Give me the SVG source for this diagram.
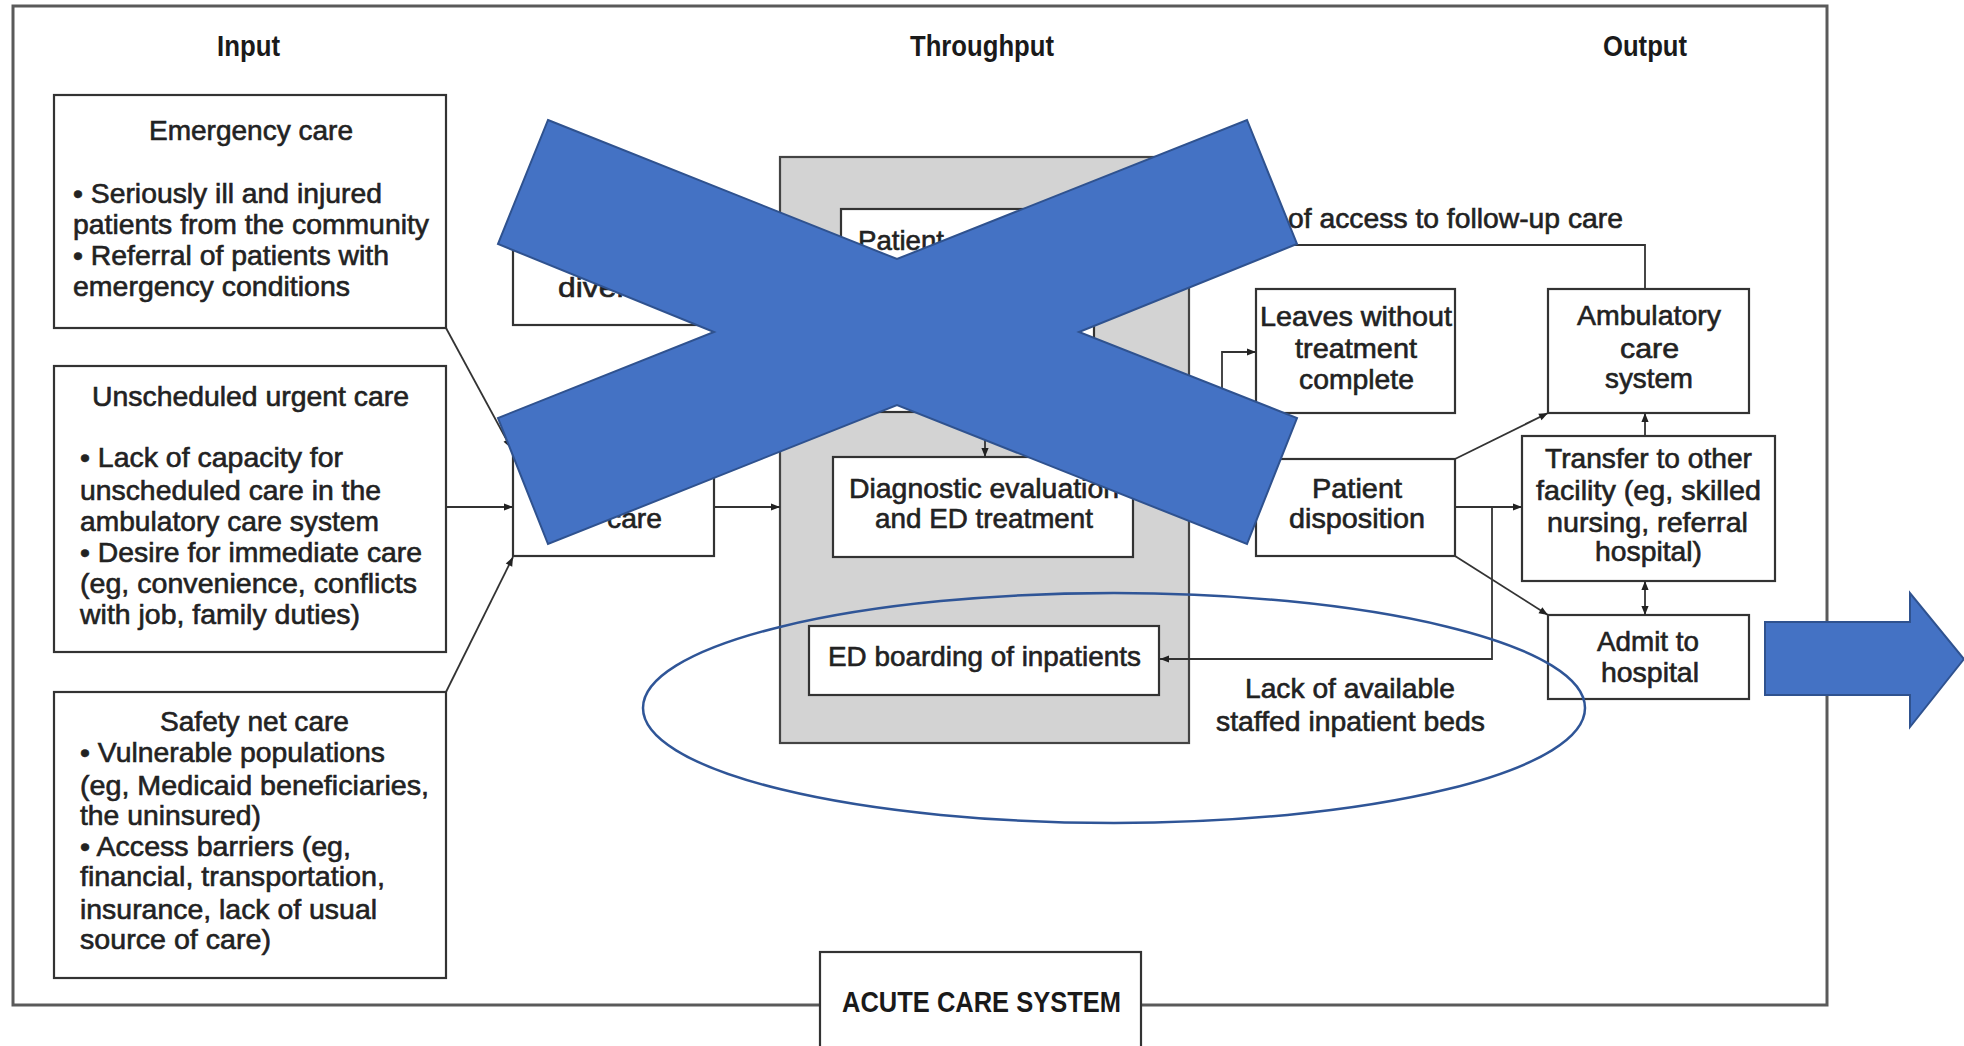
<svg xmlns="http://www.w3.org/2000/svg" width="1964" height="1046" viewBox="0 0 1964 1046">
<defs>
<style>
.box{fill:#fff;stroke:#333;stroke-width:2.2}
.t{font-family:"Liberation Sans",Arial,sans-serif;font-size:28px;fill:#222;stroke:#222;stroke-width:0.6}
.h{font-family:"Liberation Sans",Arial,sans-serif;font-size:29px;font-weight:bold;fill:#1a1a1a}
.c{fill:none;stroke:#333;stroke-width:1.8}
.blue{fill:#4472C4;stroke:#2F528F;stroke-width:2}
</style>
<marker id="ah" viewBox="0 0 10 10" refX="10" refY="5" markerWidth="11" markerHeight="9" markerUnits="userSpaceOnUse" orient="auto-start-reverse">
<path d="M0,1 L10,5 L0,9 z" fill="#222"/>
</marker>
</defs>
<rect width="1964" height="1046" fill="#fff"/>
<rect id="frame" x="13" y="6" width="1814" height="999" fill="none" stroke="#5a5a5a" stroke-width="3"/>
<g id="headers">
<text class="h" x="217" y="56" textLength="63" lengthAdjust="spacingAndGlyphs">Input</text>
<text class="h" x="910" y="56" textLength="144" lengthAdjust="spacingAndGlyphs">Throughput</text>
<text class="h" x="1603" y="56" textLength="84" lengthAdjust="spacingAndGlyphs">Output</text>
</g>
<g id="emergency">
<rect class="box" x="54" y="95" width="392" height="233"/>
<text class="t" x="149" y="140" textLength="204" lengthAdjust="spacingAndGlyphs">Emergency care</text>
<text class="t" x="73" y="203" textLength="309" lengthAdjust="spacingAndGlyphs">• Seriously ill and injured</text>
<text class="t" x="73" y="234" textLength="356" lengthAdjust="spacingAndGlyphs">patients from the community</text>
<text class="t" x="73" y="265" textLength="316" lengthAdjust="spacingAndGlyphs">• Referral of patients with</text>
<text class="t" x="73" y="296" textLength="277" lengthAdjust="spacingAndGlyphs">emergency conditions</text>
</g>
<g id="unscheduled">
<rect class="box" x="54" y="366" width="392" height="286"/>
<text class="t" x="92" y="406" textLength="317" lengthAdjust="spacingAndGlyphs">Unscheduled urgent care</text>
<text class="t" x="80" y="467" textLength="263" lengthAdjust="spacingAndGlyphs">• Lack of capacity for</text>
<text class="t" x="80" y="500" textLength="301" lengthAdjust="spacingAndGlyphs">unscheduled care in the</text>
<text class="t" x="80" y="531" textLength="299" lengthAdjust="spacingAndGlyphs">ambulatory care system</text>
<text class="t" x="80" y="562" textLength="342" lengthAdjust="spacingAndGlyphs">• Desire for immediate care</text>
<text class="t" x="80" y="593" textLength="337" lengthAdjust="spacingAndGlyphs">(eg, convenience, conflicts</text>
<text class="t" x="80" y="624" textLength="280" lengthAdjust="spacingAndGlyphs">with job, family duties)</text>
</g>
<g id="safety">
<rect class="box" x="54" y="692" width="392" height="286"/>
<text class="t" x="160" y="731" textLength="189" lengthAdjust="spacingAndGlyphs">Safety net care</text>
<text class="t" x="80" y="762" textLength="305" lengthAdjust="spacingAndGlyphs">• Vulnerable populations</text>
<text class="t" x="80" y="795" textLength="349" lengthAdjust="spacingAndGlyphs">(eg, Medicaid beneficiaries,</text>
<text class="t" x="80" y="825" textLength="181" lengthAdjust="spacingAndGlyphs">the uninsured)</text>
<text class="t" x="80" y="856" textLength="271" lengthAdjust="spacingAndGlyphs">• Access barriers (eg,</text>
<text class="t" x="80" y="886" textLength="305" lengthAdjust="spacingAndGlyphs">financial, transportation,</text>
<text class="t" x="80" y="919" textLength="297" lengthAdjust="spacingAndGlyphs">insurance, lack of usual</text>
<text class="t" x="80" y="949" textLength="191" lengthAdjust="spacingAndGlyphs">source of care)</text>
</g>
<g id="diversion">
<rect class="box" x="513" y="228" width="201" height="97"/>
<text class="t" x="558" y="297" textLength="69" lengthAdjust="spacingAndGlyphs">diver</text>
</g>
<g id="demand">
<rect class="box" x="513" y="430" width="201" height="126"/>
<text class="t" x="607" y="528" textLength="55" lengthAdjust="spacingAndGlyphs">care</text>
</g>
<g id="throughput">
<rect x="780" y="157" width="409" height="586" fill="#d3d3d3" stroke="#444" stroke-width="2.2"/>
</g>
<g id="patient-top">
<rect class="box" x="841" y="209" width="253" height="203"/>
<text class="t" x="858" y="250" textLength="86" lengthAdjust="spacingAndGlyphs">Patient</text>
</g>
<g id="diagnostic">
<rect class="box" x="833" y="457" width="300" height="100"/>
<text class="t" x="849" y="498" textLength="270" lengthAdjust="spacingAndGlyphs">Diagnostic evaluation</text>
<text class="t" x="875" y="528" textLength="218" lengthAdjust="spacingAndGlyphs">and ED treatment</text>
</g>
<g id="boarding">
<rect class="box" x="809" y="626" width="350" height="69"/>
<text class="t" x="828" y="666" textLength="313" lengthAdjust="spacingAndGlyphs">ED boarding of inpatients</text>
</g>
<g id="leaves">
<rect class="box" x="1256" y="289" width="199" height="124"/>
<text class="t" x="1260" y="326" textLength="192" lengthAdjust="spacingAndGlyphs">Leaves without</text>
<text class="t" x="1295" y="358" textLength="122" lengthAdjust="spacingAndGlyphs">treatment</text>
<text class="t" x="1299" y="389" textLength="115" lengthAdjust="spacingAndGlyphs">complete</text>
</g>
<g id="disposition">
<rect class="box" x="1256" y="459" width="199" height="97"/>
<text class="t" x="1312" y="498" textLength="90" lengthAdjust="spacingAndGlyphs">Patient</text>
<text class="t" x="1289" y="528" textLength="136" lengthAdjust="spacingAndGlyphs">disposition</text>
</g>
<g id="ambulatory">
<rect class="box" x="1548" y="289" width="201" height="124"/>
<text class="t" x="1577" y="325" textLength="144" lengthAdjust="spacingAndGlyphs">Ambulatory</text>
<text class="t" x="1620" y="358" textLength="59" lengthAdjust="spacingAndGlyphs">care</text>
<text class="t" x="1605" y="388" textLength="88" lengthAdjust="spacingAndGlyphs">system</text>
</g>
<g id="transfer">
<rect class="box" x="1522" y="436" width="253" height="145"/>
<text class="t" x="1545" y="468" textLength="207" lengthAdjust="spacingAndGlyphs">Transfer to other</text>
<text class="t" x="1536" y="500" textLength="225" lengthAdjust="spacingAndGlyphs">facility (eg, skilled</text>
<text class="t" x="1547" y="532" textLength="201" lengthAdjust="spacingAndGlyphs">nursing, referral</text>
<text class="t" x="1595" y="561" textLength="107" lengthAdjust="spacingAndGlyphs">hospital)</text>
</g>
<g id="admit">
<rect class="box" x="1548" y="615" width="201" height="84"/>
<text class="t" x="1597" y="651" textLength="102" lengthAdjust="spacingAndGlyphs">Admit to</text>
<text class="t" x="1601" y="682" textLength="98" lengthAdjust="spacingAndGlyphs">hospital</text>
</g>
<g id="connectors">
<line class="c" x1="446" y1="328" x2="511" y2="448" marker-end="url(#ah)"/>
<line class="c" x1="446" y1="507" x2="513" y2="507" marker-end="url(#ah)"/>
<line class="c" x1="446" y1="692" x2="513" y2="557" marker-end="url(#ah)"/>
<line class="c" x1="714" y1="507" x2="780" y2="507" marker-end="url(#ah)"/>
<line class="c" x1="985" y1="412" x2="985" y2="457" marker-end="url(#ah)"/>
<polyline class="c" points="1222,480 1222,352 1256,352" marker-end="url(#ah)"/>
<polyline class="c" points="1645,289 1645,245 1260,245"/>
<line class="c" x1="1455" y1="459" x2="1548" y2="413" marker-end="url(#ah)"/>
<line class="c" x1="1455" y1="507" x2="1522" y2="507" marker-end="url(#ah)"/>
<line class="c" x1="1455" y1="556" x2="1548" y2="615" marker-end="url(#ah)"/>
<polyline class="c" points="1492,507 1492,659 1160,659" marker-end="url(#ah)"/>
<line class="c" x1="1645" y1="436" x2="1645" y2="413" marker-end="url(#ah)"/>
<line class="c" x1="1645" y1="581" x2="1645" y2="615" marker-start="url(#ah)" marker-end="url(#ah)"/>
</g>
<g id="labels">
<text class="t" x="1288" y="228" textLength="335" lengthAdjust="spacingAndGlyphs">of access to follow-up care</text>
<text class="t" x="1245" y="698" textLength="210" lengthAdjust="spacingAndGlyphs">Lack of available</text>
<text class="t" x="1216" y="731" textLength="269" lengthAdjust="spacingAndGlyphs">staffed inpatient beds</text>
</g>
<g id="acute">
<rect class="box" x="820" y="952" width="321" height="100"/>
<text class="h" x="842" y="1012" font-size="30" textLength="279" lengthAdjust="spacingAndGlyphs">ACUTE CARE SYSTEM</text>
</g>
<ellipse id="highlight" cx="1114" cy="708" rx="471" ry="115" fill="none" stroke="#2F5597" stroke-width="2.5"/>
<polygon id="cross" class="blue" points="548,120 897,259 1247,120 1297,244 1079,332 1297,418 1247,544 897,405 548,544 498,418 714,332 498,244"/>
<polygon id="blue-arrow" class="blue" points="1765,622 1910,622 1910,593 1964,659 1910,727 1910,695 1765,695"/>
</svg>
